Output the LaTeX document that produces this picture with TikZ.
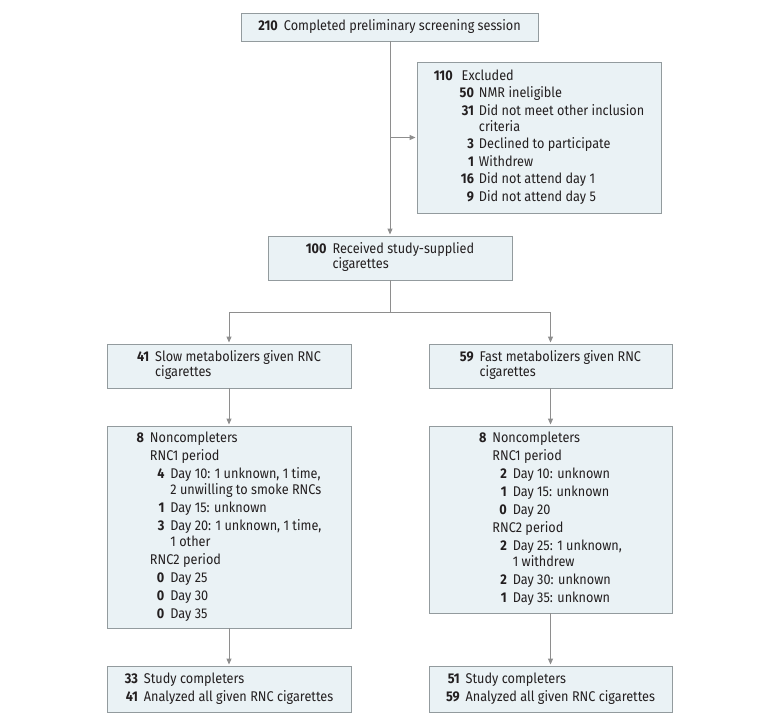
\documentclass[tikz,border=0pt]{standalone}
\usepackage{fontspec}
\setmainfont[FakeStretch=0.9]{Fira Sans}
\usetikzlibrary{arrows.meta}
\definecolor{boxfill}{HTML}{EAF2F5}
\definecolor{boxline}{HTML}{939B9E}
\definecolor{conn}{HTML}{8E8E8E}
\definecolor{txt}{HTML}{231F20}
\tikzset{
  fbox/.style={draw=boxline, fill=boxfill, line width=0.9pt, inner sep=0pt,
    text=txt, font=\fontsize{14.1}{16}\selectfont, align=left},
  arr/.style={draw=conn, line width=1pt, -{Triangle[length=6pt,width=5pt]}, shorten >=1pt},
  ln/.style={draw=conn, line width=1pt}
}
\begin{document}
\begin{tikzpicture}[x=1pt,y=-1pt]
\useasboundingbox (0,0) rectangle (780,726);
% top
\node[fbox, minimum width=297pt, minimum height=28pt] (top) at (389.5,27)
  {\textbf{210}\hspace{6pt}Completed preliminary screening session};
% excluded
\node[fbox, minimum width=244pt, minimum height=151pt] (excl) at (539,137.5)
  {\begin{tabular}{@{}r@{\hspace{7pt}}r@{\hspace{5pt}}l@{}}
  \textbf{110} & \multicolumn{2}{@{\hspace{2pt}}l@{}}{Excluded}\\[1.5pt]
  & \textbf{50} & NMR ineligible\\[1.5pt]
  & \textbf{31} & Did not meet other inclusion\\
  & & criteria\\[1.5pt]
  & \textbf{3} & Declined to participate\\[1.5pt]
  & \textbf{1} & Withdrew\\[1.5pt]
  & \textbf{16} & Did not attend day 1\\[1.5pt]
  & \textbf{9} & Did not attend day 5
  \end{tabular}};
% received
\node[fbox, minimum width=244pt, minimum height=44pt] (recv) at (390,258)
  {\begin{tabular}{@{}r@{\hspace{6pt}}l@{}}
  \textbf{100} & Received study-supplied\\[-1pt]
  & cigarettes
  \end{tabular}};
% groups
\node[fbox, minimum width=244pt, minimum height=44pt] (slow) at (229,366)
  {\begin{tabular}{@{}r@{\hspace{6pt}}l@{}}
  \textbf{41} & Slow metabolizers given RNC\\[-1pt]
  & cigarettes
  \end{tabular}};
\node[fbox, minimum width=243pt, minimum height=44pt] (fast) at (550.5,366)
  {\begin{tabular}{@{}r@{\hspace{6pt}}l@{}}
  \textbf{59} & Fast metabolizers given RNC\\[-1pt]
  & cigarettes
  \end{tabular}};
% noncompleters
\node[fbox, minimum width=244pt, minimum height=202pt] (nslow) at (229,527)
  {\begin{tabular}{@{}r@{\hspace{6pt}}l@{}r@{\hspace{6pt}}l@{}}
  \textbf{8} & \multicolumn{3}{@{}l@{}}{Noncompleters}\\[2pt]
  & \multicolumn{3}{@{}l@{}}{RNC1 period}\\[2pt]
  & \hspace{7pt} & \textbf{4} & Day 10: 1 unknown, 1 time,\\
  & & & 2 unwilling to smoke RNCs\\[2pt]
  & & \textbf{1} & Day 15: unknown\\[2pt]
  & & \textbf{3} & Day 20: 1 unknown, 1 time,\\
  & & & 1 other\\[2pt]
  & \multicolumn{3}{@{}l@{}}{RNC2 period}\\[2pt]
  & & \textbf{0} & Day 25\\[2pt]
  & & \textbf{0} & Day 30\\[2pt]
  & & \textbf{0} & Day 35
  \end{tabular}};
\node[fbox, minimum width=243pt, minimum height=187pt] (nfast) at (550.5,519.5)
  {\begin{tabular}{@{}r@{\hspace{6pt}}l@{}r@{\hspace{6pt}}l@{}}
  \textbf{8} & \multicolumn{3}{@{}l@{}}{Noncompleters}\\[2pt]
  & \multicolumn{3}{@{}l@{}}{RNC1 period}\\[2pt]
  & \hspace{7pt} & \textbf{2} & Day 10: unknown\\[2pt]
  & & \textbf{1} & Day 15: unknown\\[2pt]
  & & \textbf{0} & Day 20\\[2pt]
  & \multicolumn{3}{@{}l@{}}{RNC2 period}\\[2pt]
  & & \textbf{2} & Day 25: 1 unknown,\\
  & & & 1 withdrew\\[2pt]
  & & \textbf{2} & Day 30: unknown\\[2pt]
  & & \textbf{1} & Day 35: unknown
  \end{tabular}};
% completers
\node[fbox, minimum width=244pt, minimum height=46pt] (cslow) at (229,689)
  {\begin{tabular}{@{}r@{\hspace{6pt}}l@{}}
  \textbf{33} & Study completers\\[2pt]
  \textbf{41} & Analyzed all given RNC cigarettes
  \end{tabular}};
\node[fbox, minimum width=243pt, minimum height=46pt] (cfast) at (550.5,689)
  {\begin{tabular}{@{}r@{\hspace{6pt}}l@{}}
  \textbf{51} & Study completers\\[2pt]
  \textbf{59} & Analyzed all given RNC cigarettes
  \end{tabular}};
% connectors
\coordinate (split) at (recv.south |- 0,312);
\coordinate (branch) at (recv.north |- excl.west);
\coordinate (start) at (recv.north |- top.south);
\draw[arr] (start) -- (recv.north);
\draw[arr] (branch) -- (excl.west);
\draw[ln] (recv.south) -- (split);
\draw[arr] (split) -| (slow.north);
\draw[arr] (split) -| (fast.north);
\draw[arr] (slow.south) -- (nslow.north);
\draw[arr] (fast.south) -- (nfast.north);
\draw[arr] (nslow.south) -- (cslow.north);
\draw[arr] (nfast.south) -- (cfast.north);
\end{tikzpicture}
\end{document}
